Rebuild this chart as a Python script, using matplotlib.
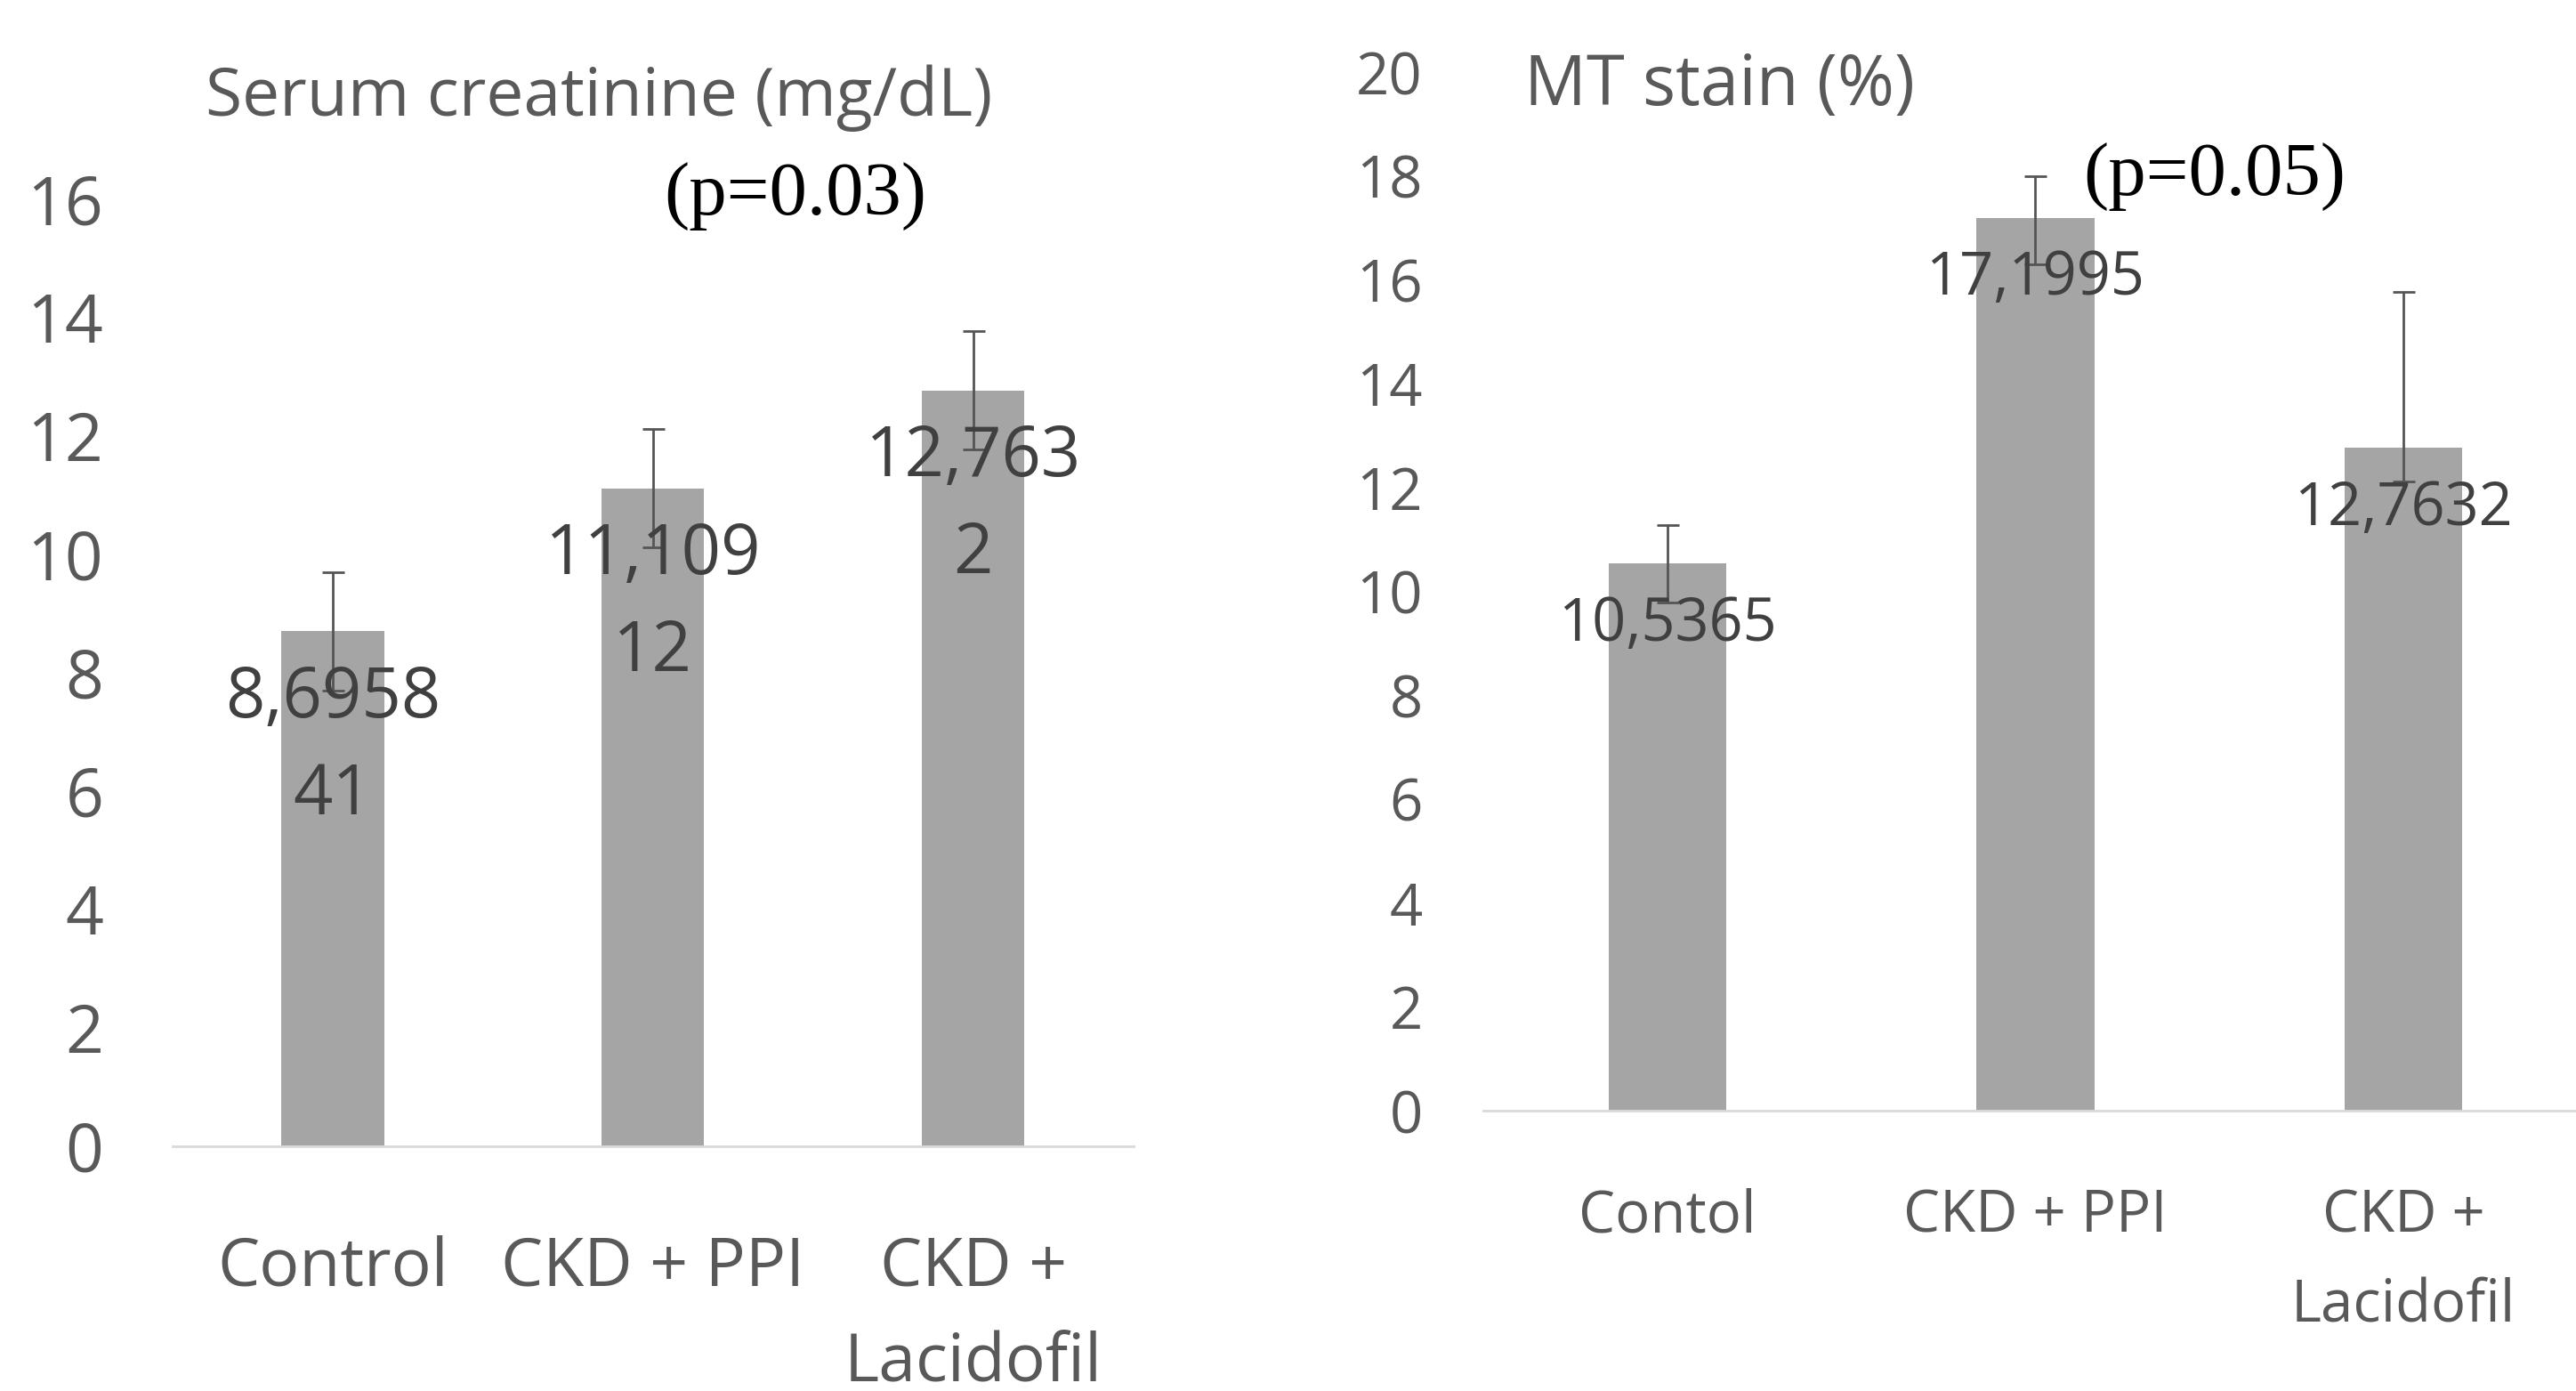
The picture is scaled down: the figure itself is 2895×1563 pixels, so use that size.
import matplotlib.pyplot as plt

plt.rcParams['font.family'] = ['Open Sans', 'DejaVu Sans']

# serum creatinine panel
groups_left = ["Control", "CKD + PPI", "CKD +\nLacidofil"]
creat_mean = [8.695841, 11.10912, 12.7632]
creat_err = [1.0, 1.0, 1.0]

# MT stain panel
groups_right = ["Contol", "CKD + PPI", "CKD +\nLacidofil"]
mt_mean = [10.5365, 17.1995, 12.7632]
mt_err_lo = [0.75, 0.9, 0.65]
mt_err_hi = [0.75, 0.8, 3.0]

BAR = '#a5a5a5'
TXT = '#595959'
LBL = '#404040'


def label_text(v, wrap):
    s = str(v).replace('.', ',')
    if wrap and len(s) > wrap:
        s = s[:wrap] + '\n' + s[wrap:]
    return s


def style_axis(ax, ymax, fs, pad_y, pad_x):
    ax.set_xlim(-0.5, 2.5)
    ax.set_ylim(0, ymax)
    ax.set_yticks(range(0, ymax + 1, 2))
    for side in ['top', 'right', 'left']:
        ax.spines[side].set_visible(False)
    ax.spines['bottom'].set_color('#d9d9d9')
    ax.spines['bottom'].set_linewidth(2)
    ax.tick_params(axis='y', length=0, pad=pad_y, labelsize=fs, labelcolor=TXT)
    ax.tick_params(axis='x', length=0, pad=pad_x, labelsize=fs, labelcolor=TXT)


fig = plt.figure(figsize=(28.95, 15.63), dpi=100)

ax1 = fig.add_axes([0.067, 0.176, 0.373, 0.681])
x = range(len(creat_mean))
ax1.bar(x, creat_mean, width=0.32, color=BAR, zorder=2)
ax1.errorbar(x, creat_mean, yerr=creat_err, fmt='none', ecolor='#555555',
             elinewidth=2, capsize=9, capthick=2, zorder=3)
ax1.set_xticks(list(x))
ax1.set_xticklabels(groups_left, linespacing=1.55)
style_axis(ax1, 16, 54, 56, 72)
for i, v in enumerate(creat_mean):
    ax1.annotate(label_text(v, 6), (i, v), xytext=(0, -26), textcoords='offset points',
                 ha='center', va='top', fontsize=56, color=LBL, linespacing=1.5, zorder=4)
ax1.text(1.444, 16.05, "(p=0.03)", family='Liberation Serif', fontsize=61,
         ha='center', va='center', color='black', clip_on=False)
fig.text(231 / 2895, 1 - 110 / 1563, "Serum creatinine (mg/dL)", fontsize=54,
         color=TXT, ha='left', va='center')

ax2 = fig.add_axes([0.5758, 0.2015, 0.4287, 0.7466])
x = range(len(mt_mean))
ax2.bar(x, mt_mean, width=0.32, color=BAR, zorder=2)
ax2.errorbar(x, mt_mean, yerr=[mt_err_lo, mt_err_hi], fmt='none', ecolor='#555555',
             elinewidth=2, capsize=9, capthick=2, zorder=3)
ax2.set_xticks(list(x))
ax2.set_xticklabels(groups_right, linespacing=1.7)
style_axis(ax2, 20, 47, 49, 62)
for i, v in enumerate(mt_mean):
    ax2.annotate(label_text(v, 0), (i, v), xytext=(0, -25), textcoords='offset points',
                 ha='center', va='top', fontsize=48, color=LBL, zorder=4)
ax2.text(1.486, 17.98, "(p=0.05)", family='Liberation Serif', fontsize=61,
         ha='center', va='center', color='black', clip_on=False)
fig.text(1713 / 2895, 1 - 97 / 1563, "MT stain (%)", fontsize=56,
         color=TXT, ha='left', va='center')

fig.savefig('out.png', dpi=100, facecolor='white')
